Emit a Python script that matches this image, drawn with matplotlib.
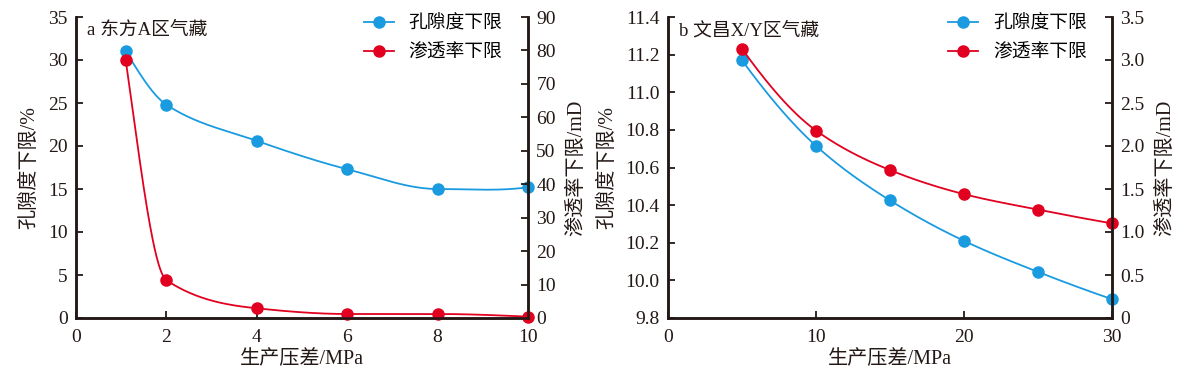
import numpy as np
import matplotlib
matplotlib.use('Agg')
import matplotlib.pyplot as plt

plt.rcParams['font.family'] = ['Liberation Serif', 'Noto Sans CJK SC']
plt.rcParams['axes.unicode_minus'] = False

# panel a - 东方A区气藏
xa = [1.1, 2, 4, 6, 8, 10]
poro_a = [31.0, 24.8, 20.6, 17.3, 15.0, 15.2]
perm_a = [77.1, 11.3, 2.9, 1.2, 1.2, 0.4]

# panel b - 文昌X/Y区气藏
xb = [5, 10, 15, 20, 25, 30]
poro_b = [11.17, 10.715, 10.425, 10.21, 10.045, 9.90]
perm_b = [3.13, 2.18, 1.72, 1.44, 1.26, 1.10]

BLUE = '#1a9be0'
RED = '#e1001f'
INK = '#231815'


# monotone cubic (pchip) curve through the points, only for drawing the line
def smooth(x, y, n=60):
    x = np.asarray(x, float)
    y = np.asarray(y, float)
    h = np.diff(x)
    d = np.diff(y) / h
    m = np.zeros(len(x))
    for k in range(1, len(x) - 1):
        if d[k - 1] * d[k] > 0:
            w1 = 2 * h[k] + h[k - 1]
            w2 = h[k] + 2 * h[k - 1]
            m[k] = (w1 + w2) / (w1 / d[k - 1] + w2 / d[k])
    m[0] = ((2 * h[0] + h[1]) * d[0] - h[0] * d[1]) / (h[0] + h[1])
    if np.sign(m[0]) != np.sign(d[0]):
        m[0] = 0
    m[-1] = ((2 * h[-1] + h[-2]) * d[-1] - h[-1] * d[-2]) / (h[-1] + h[-2])
    if np.sign(m[-1]) != np.sign(d[-1]):
        m[-1] = 0
    xs, ys = [], []
    for k in range(len(x) - 1):
        t = np.linspace(0, 1, n)
        h00 = 2 * t ** 3 - 3 * t ** 2 + 1
        h10 = t ** 3 - 2 * t ** 2 + t
        h01 = -2 * t ** 3 + 3 * t ** 2
        h11 = t ** 3 - t ** 2
        xs.append(x[k] + t * h[k])
        ys.append(h00 * y[k] + h10 * h[k] * m[k] + h01 * y[k + 1] + h11 * h[k] * m[k + 1])
    return np.concatenate(xs), np.concatenate(ys)


def style(ax):
    for s in ax.spines.values():
        s.set_color(INK)
        s.set_linewidth(1.8)
    ax.tick_params(direction='in', length=5, width=1.3, color=INK,
                   labelsize=14, labelcolor=INK, pad=6)
    ax.tick_params(axis='x', pad=8)


def panel(rect, x, poro, perm, xlim, xt, ylim1, yt1, ylim2, yt2, title, fmt1, fmt2):
    ax = fig.add_axes(rect)
    ax2 = ax.twinx()
    ax.spines['top'].set_visible(False)
    ax2.spines['top'].set_visible(False)
    style(ax)
    style(ax2)

    sx, sy = smooth(x, poro)
    ax.plot(sx, sy, color=BLUE, lw=1.3)
    ax.plot(x, poro, 'o', color=BLUE, ms=8, clip_on=False)
    sx, sy = smooth(x, perm)
    ax2.plot(sx, sy, color=RED, lw=1.3)
    ax2.plot(x, perm, 'o', color=RED, ms=8, clip_on=False)

    ax.set_xlim(xlim)
    ax.set_xticks(xt)
    ax.set_ylim(ylim1)
    ax.set_yticks(yt1)
    ax.set_yticklabels([fmt1(v) for v in yt1])
    ax2.set_ylim(ylim2)
    ax2.set_yticks(yt2)
    ax2.set_yticklabels([fmt2(v) for v in yt2])

    ax.set_xlabel('生产压差/MPa', fontsize=14.5, color=INK, labelpad=3)
    ax.set_ylabel('孔隙度下限/%', fontsize=14.5, color=INK, labelpad=6)
    ax2.set_ylabel('渗透率下限/mD', fontsize=14.5, color=INK, labelpad=8)
    ax.text(0.024, 0.985, title, transform=ax.transAxes, fontsize=13.5,
            color=INK, va='top', ha='left')

    h1 = plt.Line2D([], [], color=BLUE, marker='o', ms=8, lw=1.3)
    h2 = plt.Line2D([], [], color=RED, marker='o', ms=8, lw=1.3)
    ax2.legend([h1, h2], ['孔隙度下限', '渗透率下限'], loc='upper right',
               frameon=False, fontsize=13.5, handlelength=1.6, handletextpad=0.8,
               borderaxespad=0.0, labelspacing=0.6,
               bbox_to_anchor=(0.96, 1.03))
    return ax, ax2


fig = plt.figure(figsize=(11.93, 3.73), dpi=100)

panel([76 / 1193, 55 / 373, 452 / 1193, 301 / 373], xa, poro_a, perm_a,
      (0, 10), [0, 2, 4, 6, 8, 10], (0, 35), [0, 5, 10, 15, 20, 25, 30, 35],
      (0, 90), [0, 10, 20, 30, 40, 50, 60, 70, 80, 90], 'a 东方A区气藏',
      lambda v: '%d' % v, lambda v: '%d' % v)

panel([668 / 1193, 55 / 373, 444 / 1193, 301 / 373], xb, poro_b, perm_b,
      (0, 30), [0, 10, 20, 30], (9.8, 11.4), [9.8, 10.0, 10.2, 10.4, 10.6, 10.8, 11.0, 11.2, 11.4],
      (0, 3.5), [0, 0.5, 1.0, 1.5, 2.0, 2.5, 3.0, 3.5], 'b 文昌X/Y区气藏',
      lambda v: '%.1f' % v, lambda v: '0' if v == 0 else '%.1f' % v)

fig.savefig('out.png', dpi=100)
